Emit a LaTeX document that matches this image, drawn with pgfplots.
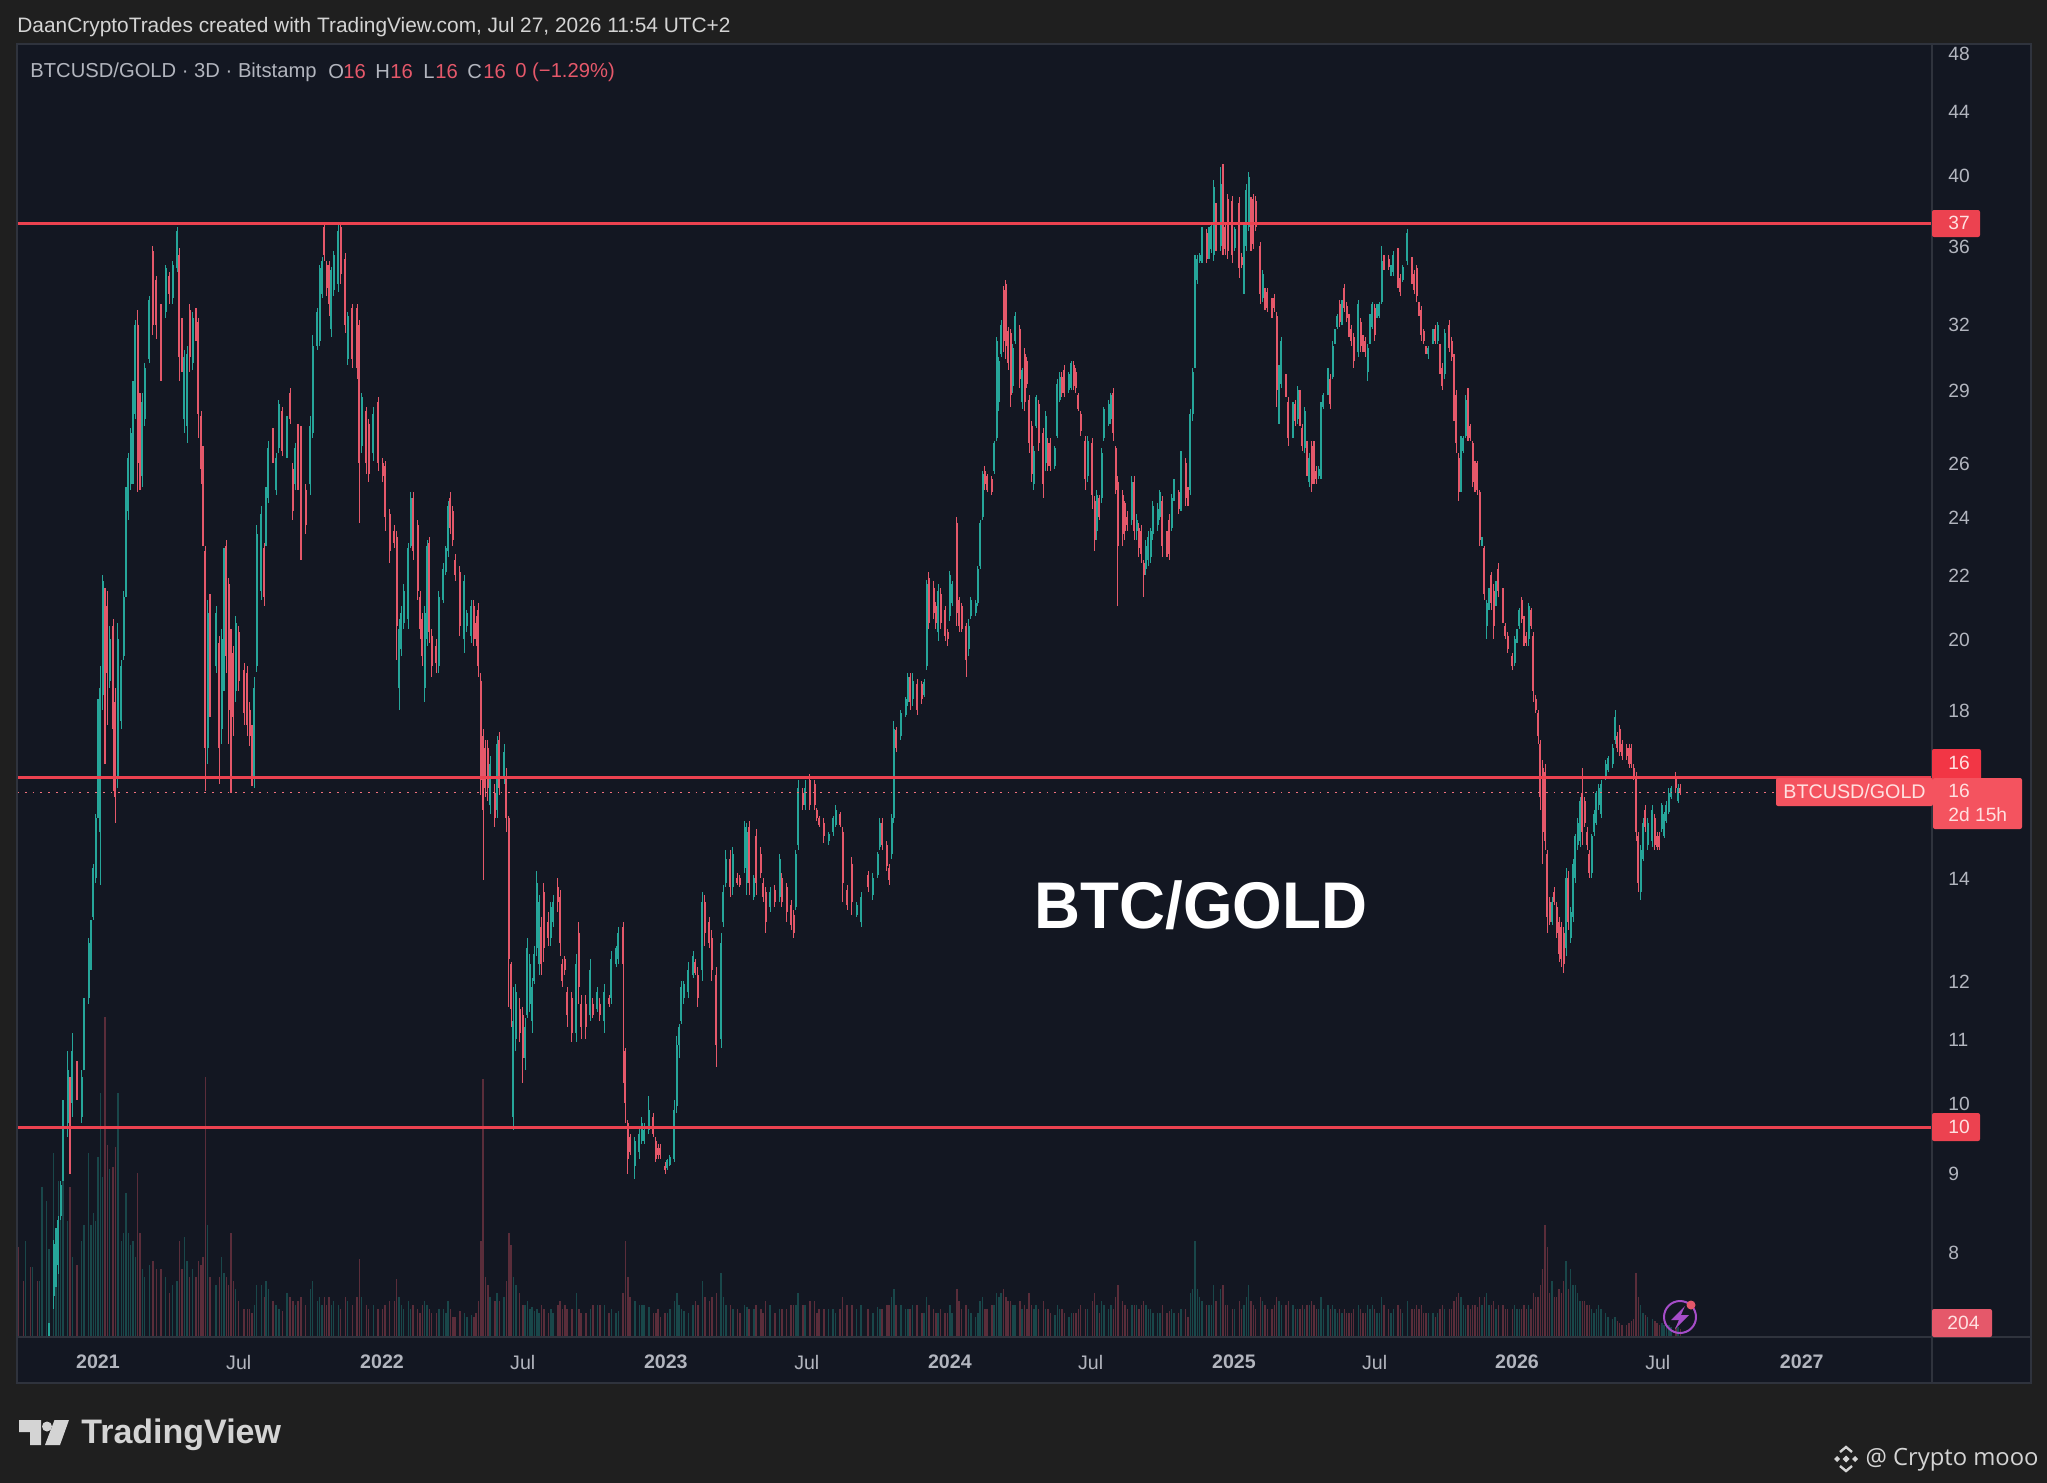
\documentclass[border=0pt]{standalone}
\usepackage{fontspec}
\usepackage{pgfplots}
\usepackage{pgfplotstable}
\pgfplotsset{compat=1.18}
\setmainfont{Liberation Sans}
\newfontfamily\wmfont{Open Sans}
\definecolor{outerbg}{HTML}{1F1F1F}
\definecolor{panebg}{HTML}{131722}
\definecolor{frameln}{HTML}{2F333D}
\definecolor{upc}{HTML}{26A69A}
\definecolor{dnc}{HTML}{E5586A}
\definecolor{lvl}{HTML}{EC4250}
\definecolor{txt}{HTML}{B2B5BE}
\definecolor{tagA}{HTML}{F23645}
\definecolor{tagB}{HTML}{F4535F}
\definecolor{hdr}{HTML}{D4D4D4}
\definecolor{bolt}{HTML}{A64DC9}
\pgfplotstableread{
i l h o c v
-34 5.6 5.9 5.8 5.7 2250
-32 5.7 6.0 5.9 5.8 1400
-31 5.8 6.1 5.8 6.0 2400
-29 5.9 6.2 6.1 6.0 1750
-28 6.0 6.3 6.0 6.2 1750
-26 6.1 6.4 6.3 6.2 1400
-25 6.2 6.6 6.2 6.5 1400
-24 6.4 6.8 6.4 6.7 3750
-22 6.6 7.0 6.6 6.9 3400
-21 6.9 7.2 7.0 7.2 2200
-19 7.35 8.15 7.5 8.1 4600
-18 7.6 8.3 7.7 8.2 2600
-17 7.75 8.45 7.85 8.4 3900
-16 8.4 8.9 8.45 8.85 3000
-15 8.9 10.05 8.95 9.9 5750
-13 9.5 10.8 9.7 10.5 2900
-12 9.0 10.4 10.3 9.6 3750
-11 9.8 11.1 10 10.8 2000
-9 10.05 10.65 10.6 10.2 1800
-7 9.7 10.5 9.8 10.4 2400
-6 10.5 11.7 10.5 11.6 2800
-4 11.6 12.8 11.7 12.7 4600
-3 12.2 13.15 12.3 13.1 2800
-2 13.15 14.3 13.2 14.2 3100
-1 13.9 15.4 14 15.3 2900
0 15.3 18.3 15.4 18.1 4500
1 13.85 19.2 15 18.6 6100
2 18 22 18.4 21.8 4000
3 16.6 21.6 21.5 18 8000
4 17.6 21.5 21 19 4800
5 18.6 20.4 18.8 20 4200
6.5 15.95 20.6 20.4 17.5 4250
7.5 15.2 18.6 18.2 15.8 4750
8.5 16 20.5 16.3 20 6100
10 17.5 19.4 17.7 19.2 2400
11 19.4 21.5 19.5 21.3 2600
12 21.3 25.1 21.4 24.8 3600
13 23.9 26.4 24.2 26.2 2600
14 25 27.4 25.2 27.2 2300
15 25.2 29.4 25.4 29.1 2400
16 27.8 32.2 28 32 2000
17 24.9 32.7 32 26 4100
18 25 28.9 28.7 26 2600
19 25.1 28.9 25.5 28.5 1700
20 27.5 30.2 27.8 30 1500
22 30.2 33.4 30.4 33.2 1800
23.5 31.5 36 35.7 32 1900
25 31.3 34.4 34.2 32 1700
27 29.4 33 32.8 30.5 1700
29 32.3 35 32.6 34.8 1500
30.6 33 34.6 34.4 33.5 1100
32 33 35.2 33.3 35 1300
33.9 34.6 37 34.8 36.8 1400
34.9 29.4 35.9 35.5 30.5 2400
36 29.8 32.3 32 30.5 1700
37 27.2 30.8 27.8 30.5 2500
38.2 26.8 31 27.5 30.6 1900
39.3 29.8 33 32.7 30.5 1500
40.6 29.9 32.6 30.2 32.3 1700
42 31.2 32.8 32.6 31.6 1500
43 27 32.3 32.1 28 1900
44.2 25.2 28.1 27.9 25.8 1800
45 23 26.7 26.5 23.5 2000
46 15.95 23 22.8 17 6500
47 16.6 21.2 17 20.8 2800
48 17.8 21.4 21.2 18.2 1500
50.6 19 21 19.2 20.8 1300
52 16.1 20.1 19.9 17 1500
53 17.1 20.3 17.5 20 2000
54 18.5 22.9 19 22.5 1600
55 19 23.2 23 19.5 1500
56 17.1 21.9 21.7 18 1300
57 15.9 20.3 20.1 16.4 2600
58 17.3 19.8 19.6 17.8 1400
59 18.2 20.7 18.5 20.5 1200
60.3 18.5 20.4 20.2 18.8 900
62.6 17.6 19.3 19.1 17.9 700
64 17.3 19.2 19 17.6 700
65 17.05 18.2 18 17.3 700
66 16.05 17.6 17.4 16.4 600
67 16 18.9 16.3 18.6 800
68 19.05 23.7 19.2 23.4 1300
70 21.2 24.4 21.5 24.1 1300
71.3 21 23.1 22.9 21.3 1000
72 23 25.1 23.1 24.9 1400
73 24.5 26.9 24.7 26.6 1200
75 26 27.4 27.2 26.3 900
76.3 24.8 26.4 25 26.2 800
77.5 26.4 28.6 26.6 28.4 700
79 26.3 28.3 28.1 26.5 650
81 26.2 27.9 26.4 27.7 1100
82.3 27.6 29.1 28.9 27.8 1000
83.5 23.9 26 25.8 24.2 900
84.6 25 26.8 25.2 26.6 800
85.7 25 27.6 27.4 25.3 900
87 22.5 27.5 27 23.5 1000
89 23.4 25.2 25 23.7 800
91 24.8 27.9 25.2 27.5 1200
92 27 31.5 27.2 31 1400
94 30.8 32.8 31 32.6 900
95 31 35 31.2 34.8 1000
96 33.3 35.4 33.5 35.2 800
97 35.2 37.3 37 35.5 1000
98 33.4 35.2 35 33.8 800
99 32.4 35.2 35 33 1000
100 31.4 34.9 31.8 34.7 800
101 33.4 35.7 33.7 35.5 900
103 33.6 37.2 34 36.8 800
104 34 37.3 37 34.5 700
106 31.6 35.6 35.3 32 1000
107 30.1 32.6 30.4 32.4 900
109 30 33 32.8 30.4 800
111 29.5 33 32.8 30 1000
112 23.8 32.2 32 26 1950
113 26.4 28.9 26.7 28.7 1000
115 25.6 28.3 28.1 26 800
116 25.3 27.8 27.6 25.6 700
118 26.1 28.3 26.4 28 800
120 25.7 28.7 28.5 26 700
122 25.3 26.2 26 25.5 700
123 23.5 26.1 25.9 24 800
125 22.4 24.3 24.1 22.8 900
127 22.9 23.7 23.5 23.1 900
128 19.4 23.5 23.3 20.4 1450
129 18 20.6 18.6 20.3 1000
130 19.5 21 19.7 20.8 800
131 20.3 21.7 20.5 21.5 700
133 20.3 23.1 20.6 22.9 900
134 22.9 24.9 23 24.7 700
135 22.5 24.9 24.7 22.8 800
137 21.2 23.9 23.7 21.5 700
138 20 21.5 21.3 20.3 600
139 19.2 20.8 20.6 19.5 800
140 18.2 21 18.6 20.8 900
141 19.8 23.2 20 23 800
142 19.9 23.3 23.1 20.2 700
143 18.9 20.3 20.1 19.2 600
145 19 20 19.8 19.3 600
146 19 21.5 19.2 21.3 700
148 21.1 22.4 21.2 22.2 700
149 22 23 22.1 22.9 600
150 22.6 24.6 22.8 24.4 900
151 23.4 24.9 24.7 23.6 700
152 23 24.4 24.2 23.2 500
153 21.8 22.7 22.5 22 500
155 20.1 22.3 22.1 20.4 650
157 19.6 22 20 21.8 600
158 20.2 20.9 20.4 20.8 500
160 19.9 21.2 20.1 21 550
161 19.8 21.2 21 20 500
162 19.8 20.7 20.5 20 600
163 18.9 21.1 20.9 19.2 900
164 15.85 19 18.8 16.2 2400
165 13.95 17.5 17.3 15.5 6450
166 15.8 17.2 17 16 1500
167 15.7 17.2 17 16 1300
168 15.4 16.8 15.6 16.6 1000
170 15.1 16.1 15.9 15.3 900
171 15.3 17.3 15.5 17.1 1100
172 15.85 17.4 17.2 16 900
174 16.1 17.1 16.3 16.9 1000
175 15 16.5 16.3 15.3 1400
176 11.55 15.35 15.3 12.4 2600
177 11.2 12.35 12.3 11.5 2300
178 9.6 11.9 9.8 11.3 1500
179 10.8 11.95 11 11.8 1300
180.6 10.95 11.7 11.5 11.1 1100
182 10.3 11.55 11.4 10.7 800
183 10.5 11.35 10.7 11.2 800
184 11.35 12.8 11.4 12.6 900
185 11.45 12.5 11.6 12.3 700
186 11.1 12.05 11.3 11.9 750
187 11.95 12.65 12 12.5 650
188 12.45 14.15 12.6 13.9 700
189 12.1 13.65 12.3 13.5 600
190 12.1 13.2 13 12.3 800
191 12.35 13.9 13.7 12.6 700
193 12.65 13.3 13.1 12.8 600
194 12.65 13.5 12.8 13.4 700
195 13 13.65 13.1 13.5 600
197 13.3 14 13.8 13.5 800
198 12.45 13.75 13.6 12.7 900
199 11.9 12.4 12.3 12 700
200 12.1 12.45 12.4 12.2 800
201 11.2 11.9 11.8 11.4 700
203 10.95 11.8 11.7 11.1 700
205 10.95 12.5 11.1 12.3 1100
206 11.6 13.1 12.9 11.9 700
207 11 11.75 11.6 11.2 600
209 11 11.75 11.6 11.2 600
211 11.3 12.4 11.4 12.2 700
212 11.35 11.7 11.6 11.4 800
214 11.45 11.9 11.5 11.8 800
215 11.3 11.7 11.6 11.4 800
217 11.1 11.95 11.3 11.8 800
219 11.55 11.75 11.7 11.6 600
220 11.6 12.55 11.7 12.4 700
222 12.25 12.65 12.3 12.6 600
223 12.3 13 12.4 12.9 650
225 10.3 13.1 13 12.3 1100
226 9.7 10.85 10.8 10 2400
227 9 9.75 9.7 9.2 1500
228 9.25 9.55 9.5 9.3 1000
230 8.92 9.5 9.1 9.45 900
232 9.2 9.64 9.3 9.55 800
233 9.4 9.8 9.45 9.7 800
234 9.4 9.7 9.45 9.6 800
236 9.55 10.1 9.6 9.9 750
238 9.5 9.85 9.8 9.55 600
239 9.15 9.5 9.45 9.2 600
240 9.2 9.4 9.35 9.25 700
241 9.2 9.4 9.35 9.25 500
243 9 9.15 9.1 9.05 600
244 9.05 9.2 9.07 9.18 600
245 9.1 9.25 9.12 9.22 700
247 9.15 10.05 9.2 9.9 900
248 9.85 11.05 9.95 10.9 1100
249 10.7 11.25 10.9 11.2 800
250 11.25 12 11.3 11.9 700
251 11.6 12 11.7 11.95 650
253 11.7 12.35 11.8 12.2 600
255 12.05 12.55 12.1 12.45 800
256 12.1 12.4 12.35 12.15 900
257 11.55 12.25 12.1 11.7 800
259 12 13.7 12.2 13.5 1400
260 12.65 13.65 13.5 12.9 1000
262 12.6 13.2 13.1 12.7 900
263 12 12.95 12.8 12.2 1000
265 10.55 12.25 12.1 10.9 1100
267 10.85 12.9 11 12.7 1600
268 13 13.85 13.1 13.7 1000
269 13.8 14.6 13.9 14.4 800
271 13.6 14.6 14.4 13.8 800
272 13.65 14.65 13.8 14.5 700
274 13.85 14.1 14 13.9 700
275 13.8 14.05 14 13.85 600
277 14.1 15.25 14.2 15.1 800
278 13.65 15.2 13.9 15 750
279 13.65 15.25 15.1 13.9 700
281 13.55 14.05 13.6 14 700
282 13.65 15.05 14.9 13.9 800
284 14 14.65 14.5 14.1 700
285 13.5 14 13.9 13.6 600
286 12.9 13.8 13.7 13.1 900
288 13.3 13.8 13.4 13.7 800
290 13.4 13.85 13.75 13.5 600
292 13.5 14.5 13.6 14.4 700
293 13.4 14.1 14 13.5 700
295 13.1 13.9 13.8 13.3 700
297 12.95 13.55 13.45 13.05 800
298 12.8 13.35 13.25 12.9 800
299 13.35 14.6 13.4 14.5 800
300 14.6 16.2 14.7 16 1100
302 15.5 16 15.9 15.6 800
303 15.5 16.2 15.6 16 800
305 15.5 16.35 16.2 15.6 900
307 15.5 16.2 16.1 15.6 900
308 15.25 15.55 15.5 15.3 600
309 15.1 15.35 15.3 15.15 700
311 14.75 15.3 15.2 14.9 700
313 14.7 15 14.8 14.95 700
315 14.9 15.35 15 15.3 700
316 15.1 15.6 15.15 15.5 600
318 15.1 15.45 15.4 15.15 700
319 13.5 15.1 15 13.9 1000
321 13.35 13.85 13.75 13.45 800
323 13.25 14.45 14.3 13.5 800
325 13.2 13.5 13.25 13.45 700
327 13 13.7 13.1 13.6 800
330 13.7 14.15 14.05 13.8 700
332 13.55 14.1 13.65 14 600
334 14 14.55 14.05 14.5 750
335 14.6 15.3 14.65 15.2 700
336 14.6 15.3 15.2 14.7 700
338 14.15 14.8 14.7 14.25 800
339 13.85 14.3 14.2 13.95 800
340 14.4 15.4 14.5 15.3 1000
341 15.2 17.7 15.3 17.5 1200
342 16.9 17.55 17.45 17 800
344 17.2 18 17.3 17.9 800
346 17.8 18.35 17.85 18.3 700
347 18.1 19 18.2 18.9 700
348 18 19 18.9 18.2 700
349 18.1 19 18.3 18.8 800
351 17.85 18.85 18.7 18 800
353 18.15 18.8 18.7 18.3 600
354 18.35 18.85 18.4 18.75 600
355 19.1 21.85 19.2 21.7 1000
356 20.3 22.1 21.9 20.5 800
358 20.6 21.8 21.6 20.8 700
359 20.3 21.15 21 20.5 600
360 19.95 21.7 20.2 21.5 600
361 20.3 21.6 21.4 20.5 700
363 19.95 21 20.9 20.1 600
364 19.8 20.3 20.2 20 600
365 20.55 22.15 20.7 22 800
366 21 21.8 21.1 21.7 600
368 20.4 24 23.8 20.8 1200
369 20.2 21.3 21.2 20.4 900
370 20.2 21.1 21 20.3 700
372 18.9 20.5 20.4 19.4 800
373 19.5 20.6 19.7 20.4 700
374 20.6 21.3 20.7 21.2 600
376 20.7 21.2 20.8 21.1 500
377 21 22.3 21.1 22.2 600
378 22.2 23.9 22.3 23.8 900
379 23.9 25.7 24 25.6 1000
380 25 25.9 25.7 25.2 700
381 24.9 25.6 25.5 25 700
383 24.8 25.5 25.4 24.9 800
384 25.6 26.9 25.7 26.8 800
385 26.9 31.4 27 31.2 1100
386 28.1 30.5 28.5 30.3 1000
387 30.5 32.2 30.6 32 1100
388 30.7 33.9 33.7 31.2 1200
389 30.4 34.2 34 31 1000
390 29.9 31.9 31.7 30.2 900
391 28.3 31.8 31.6 28.8 900
392 28.9 31.1 29.2 30.9 800
393 31.1 32.6 31.2 32.4 800
395 29.1 32 31.8 29.5 900
396 28.2 30 28.5 29.9 700
397 28.1 30.9 30.6 28.5 800
398 29.1 30.5 30.3 29.3 700
399 26.4 28.8 28.6 26.8 1100
400 25.3 27.7 27.5 25.6 800
401 25 26.7 25.2 26.5 700
402 27.4 28.8 27.5 28.7 800
403 26.5 28.6 28.4 26.8 700
405 24.7 27.4 27.2 25.2 900
406 25.7 28.1 26 27.9 700
407 25.7 27 26.8 25.9 700
408 25.7 27 26.8 25.9 600
410 25.8 26.7 25.9 26.6 550
411 27 29.5 27.1 29.3 800
412 28.5 29.8 28.6 29.6 700
413 28.7 29.8 29.6 28.9 700
414 28.7 30.1 29.9 28.9 600
416 28.9 29.8 29 29.7 500
417 29 30.3 29.1 30.2 600
418 29 30.3 30.1 29.2 600
419 28.9 30 29.8 29.1 600
420 28.1 28.9 28.8 28.2 700
421 27.1 28.1 28 27.3 800
423 25 27.1 26.9 25.4 700
424 25.3 27.1 25.5 26.9 700
426 24.3 27 26.8 24.8 900
427 22.8 24.75 24.6 23.2 1100
428 23.2 25 23.5 24.8 800
429 23.9 24.8 24.7 24 600
430 24.5 26.6 24.7 26.4 900
431 26.9 28.3 27 28.2 800
433 27.5 28.6 27.6 28.4 700
434 27.6 28.9 27.8 28.8 800
435 26.9 29.1 28.9 27.2 700
436 24.85 26.7 26.6 25 1000
437 21 25.5 25.3 23 1300
439 23 25 24.8 23.4 900
440 23.2 24.6 24.5 23.5 800
441 23.5 24.2 24 23.7 700
443 23.7 25.5 23.9 25.3 800
444 23.2 25.5 25.3 23.5 800
445 23.2 24.1 23.5 23.9 800
446 22.6 23.8 23.6 22.9 700
447 22.4 23.7 23.5 22.7 800
448 21.3 22.5 22.4 22 900
449 22 23.2 22.2 23 800
450 22.3 23.5 22.5 23.3 700
451 22.4 23.6 22.6 23.5 700
452 23.2 24.6 23.4 24.4 600
454 23.5 24.5 23.7 24.3 600
455 23.9 25 24 24.9 600
456 22.6 24.75 24.6 23 800
458 22.6 23.5 23.3 22.8 600
459 22.5 24.1 23.9 22.7 650
460 23.5 24.85 23.6 24.7 700
461 24.6 25.4 24.7 25.3 600
463 24.1 25 24.9 24.3 600
464 24.2 26.5 24.4 26.3 700
466 24.4 26.2 26 24.7 700
467 24.4 25.1 25 24.6 500
468 24.8 28.2 25 28 1100
469 27.7 30 28 29.8 1200
470 30 35.5 30.1 35.3 2400
471 34 35.5 34.2 35.3 1200
472 35.1 35.6 35.2 35.5 1000
473 35.1 37 35.3 36.8 900
475 35.1 36.9 36.7 35.3 800
476 35.3 37 35.5 36.8 800
477 35.6 37.3 35.8 37.1 800
478 35.2 39.7 35.5 39.3 1300
479 35.7 38.4 38.2 36 900
481 35.7 40.5 36 39.5 1200
482 35.5 40.7 40.3 36.5 1300
483 35.5 37.2 37 35.8 800
484 35.3 38.9 38.6 35.7 800
486 35.1 38.8 38.5 35.5 700
487 35.7 37 35.9 36.9 700
489 34.3 38.7 38.4 34.8 900
490 34.8 35.6 35.4 35 700
491 33.5 37.2 33.9 36.9 800
492 35.7 39.5 36 39.1 1000
493 36.8 40.2 37 39.9 1300
494 35.7 38.7 38.4 36 900
495 35.8 38.9 38.6 36.1 800
496 36.8 38.8 38.5 37 700
498 33 36.2 36 33.5 1000
499 33.1 34.7 33.3 34.5 900
500 32.7 33.8 33.6 32.9 800
501 32.6 33.8 33.6 32.8 700
503 32.3 33.3 33.1 32.5 700
504 32.6 33.5 33.3 32.8 800
505 28.3 32.6 32.4 29 1000
506 27.6 30.1 27.9 29.9 900
507 29.1 31.4 29.3 31.2 800
509 28.7 29.7 29.5 28.9 800
510 26.7 28.7 28.5 27 900
512 27 28.5 27.2 28.3 800
513 27.5 28.6 28.4 27.7 700
514 27.6 29.2 27.8 29 700
515 27.5 29 28.8 27.7 700
516 26.5 27.6 27.4 26.7 800
517 26.4 28.3 26.6 28.1 700
518 25.5 26.9 26.7 25.7 800
519 25.1 26.4 25.3 26.2 800
520 24.9 26.9 26.7 25.2 900
521 25.2 26.9 26.7 25.5 800
522 25.2 25.9 25.7 25.4 700
523 25.4 25.9 25.5 25.8 700
524 25.4 28.5 25.7 28.3 1000
525 28.2 28.9 28.3 28.8 700
527 28.8 30 28.9 29.9 800
528 28.2 29.7 29.5 28.4 700
529 29.5 31.2 29.6 31 800
530 31.1 31.8 31.2 31.7 700
531 31.8 32.5 31.9 32.4 600
532 31.9 33.2 33 32.1 700
533 32 33.2 32.2 33 600
534 32.6 34 33.8 32.8 700
535 32.1 33.1 32.9 32.3 600
536 31.4 32.5 32.3 31.6 600
537 31 32 31.8 31.2 600
538 30 31.6 31.4 30.3 700
540 30.5 33.2 30.7 33 800
541 30.7 32.3 32.1 31 700
542 30.7 31.5 31.3 30.9 600
543 30.5 31.4 31.2 30.7 600
544 29.4 31.1 29.8 30.9 800
545 31.1 32.5 31.2 32.3 700
546 31.8 33.1 31.9 33 800
547 31.2 33 32.8 31.5 700
548 32.3 33 32.4 32.9 600
549 32.3 33.1 32.4 33 600
550 33 36 33.1 35.2 1000
551 34.7 35.5 35.4 34.8 800
553 34.7 35.5 35.3 34.9 700
554 34.4 35 34.5 34.9 600
555 34.4 35.7 34.6 35.5 700
557 33.8 35.9 35.7 34 800
558 33.4 34.5 34.3 33.6 700
559 34.1 35 34.2 34.9 600
561 35 36.9 35.2 36.7 900
563 34 35.4 35.2 34.2 700
564 33.5 34.7 34.5 33.7 700
565 33.1 35 34.8 33.4 800
566 32.4 33.1 33 32.5 700
567 31.2 32.9 32.7 31.5 800
568 31.1 31.8 31.7 31.2 600
569 30.6 31 30.9 30.7 600
570 30.4 31 30.6 30.9 600
572 31.1 31.8 31.2 31.7 600
573 31.1 32 31.8 31.2 500
574 31.1 32.1 31.2 32 600
575 29.7 31.1 31 30 700
576 29 30.2 30 29.2 800
577 29.5 31.8 29.7 31.6 700
579 30.7 32.2 32 30.9 700
580 30.3 31.4 31.2 30.5 700
581 27.7 30.6 30.4 28 900
582 26.4 29 28.8 26.8 1000
583 24.6 26.4 26.2 24.9 1100
584 24.9 27.1 25.1 26.9 1000
585 26.4 27.1 26.5 27 800
586 27 28.8 27.1 28.6 700
587 26.9 29.1 28.9 27.1 800
588 26.9 27.6 27.5 27 700
589 25.1 26.9 26.8 25.3 800
590 24.9 26.1 26 25 800
591 24.8 26.1 26 25 750
592 23 25 24.9 23.2 1000
593 23 23.3 23.05 23.25 800
594 21.2 23 22.9 21.4 1000
595 20 21.2 20.4 21.1 1100
596 20.9 21.6 21 21.5 800
597 20.9 22.1 22 21.1 800
598 20 21.7 21.5 20.4 900
599 21 21.8 21.1 21.7 700
600 21.3 22.4 22.2 21.5 800
602 20.5 21.6 21.4 20.7 800
603 20 20.5 20.4 20.1 700
604 19.6 20.2 20.1 19.7 700
606 19.1 19.6 19.5 19.2 700
607 19.2 20.1 19.3 20 800
608 19.9 20.3 20 20.2 700
609 20.3 20.95 20.4 20.9 700
610 20.5 21.3 21.2 20.6 700
611 19.8 20.7 20.6 19.9 800
612 19.8 20.2 20.1 19.9 700
613 19.8 21.1 20 21 800
614 20.3 20.95 20.9 20.4 700
615 18.2 20.2 20.1 18.5 1100
616 17.9 18.4 18.3 18 1000
617 17.1 18 17.9 17.3 1000
618 15.5 17.2 17.1 15.8 1300
619 14.3 16.7 16.5 15 1700
620 14.6 16.6 16.4 14.8 2800
621 12.9 14.6 14.5 13.2 2250
622 13.05 13.6 13.5 13.1 1100
623 13.05 13.6 13.1 13.5 1400
624 13.45 13.8 13.7 13.5 1000
625 12.8 13.5 13.4 12.9 1000
626 12.35 13.2 13.1 12.5 1200
627 12.25 13.1 13 12.4 1100
628 12.15 13 12.9 12.3 1400
629 12.45 14.2 12.6 14 1900
630 12.95 14.15 14 13.1 1200
631 12.7 13.4 12.8 13.3 1700
632 13.1 14.4 13.2 14.3 1300
633 13.9 14.95 14 14.9 1300
634 14.6 15.3 14.7 15.2 1100
635 14.65 15.8 14.8 15.7 900
636 14.7 16.5 15.9 15 900
637 15.1 15.8 15.7 15.2 900
638 14.6 15.1 15 14.7 800
639 14 14.6 14.5 14.1 800
640 14 14.95 14.1 14.9 700
641 14.9 15.5 15 15.4 600
642 15.15 15.95 15.2 15.9 700
643 15.5 16.1 15.6 16 800
644 15.3 16.2 15.4 16.1 700
646 16.2 16.7 16.3 16.6 600
647 16.4 16.8 16.45 16.75 500
649 16.5 17.1 16.6 17 450
650 17.1 18 17.2 17.8 500
651 16.9 17.4 17.3 17 400
652 16.8 17.6 17.5 16.9 350
653 16.7 17.2 17.1 16.8 300
655 16.7 17.1 17 16.8 300
656 16.5 17.1 17 16.6 350
657 16.5 17.1 17 16.6 400
658 16.2 16.6 16.5 16.3 450
659 14.8 16.4 16.3 15 1600
660 13.7 15 14.9 13.9 1000
661 13.55 14.7 13.7 14.6 800
662 14.35 15.3 14.4 15.2 600
663 15 15.6 15.5 15.1 550
664 14.6 15.3 14.7 15.2 500
666 14.65 15.6 14.8 15.5 450
667 14.6 15.4 15.3 14.7 400
668 14.6 15 14.9 14.65 350
669 14.6 15 14.9 14.65 300
670 15 15.65 15.05 15.6 350
671 14.85 15.45 14.9 15.4 300
672 15.2 15.7 15.25 15.6 300
673 15.4 16 15.45 15.9 300
674 15.75 16.05 15.8 16 250
676 15.9 16.4 16.3 16 250
677 15.65 16.1 15.7 16 250
678 15.85 16.1 16 15.9 204
}\candles
\pgfplotsset{
  paneaxis/.style={
    at={(8.5pt,-668.5pt)},anchor=south west,
    scale only axis,width=957.5pt,height=646.5pt,
    xmin=-34.7,xmax=785.8,clip=true,
  },
  updir/.style={restrict expr to domain={\thisrow{c}-\thisrow{o}}{0:1000}},
  dndir/.style={restrict expr to domain={\thisrow{c}-\thisrow{o}}{-1000:-0.00001}},
}
\begin{document}
\begin{tikzpicture}
\begin{scope}[x=0.5pt,y=-0.5pt]
\path[use as bounding box,fill=outerbg] (0,0) rectangle (2047,1483);
\fill[panebg] (17,44) rectangle (2031,1383);
\end{scope}
% volume
\begin{axis}[paneaxis,axis lines=none,ymin=0,ymax=32325]
\addplot[ycomb,no markers,line width=0.75pt,draw=upc,opacity=0.34,updir] table[x=i,y=v] {\candles};
\addplot[ycomb,no markers,line width=0.75pt,draw=dnc,opacity=0.34,dndir] table[x=i,y=v] {\candles};
\end{axis}
% price
\begin{axis}[paneaxis,ymode=log,ymin=7.05,ymax=48.66,
  axis line style={draw=none},major tick length=0pt,minor tick length=0pt,
  xtick={0,60.3,121.7,182,243.3,303.7,365,425.3,486.7,547,608,668.3,730},
  xticklabels={\textbf{2021},Jul,\textbf{2022},Jul,\textbf{2023},Jul,\textbf{2024},Jul,\textbf{2025},Jul,\textbf{2026},Jul,\textbf{2027}},
  xticklabel style={anchor=center,yshift=-12.5pt,inner sep=0pt,font=\fontsize{9.8}{12}\selectfont,text=txt},
  ytick={8,9,10,11,12,14,18,20,22,24,26,29,32,36,40,44,48},
  yticklabels={8,9,10,11,12,14,18,20,22,24,26,29,32,36,40,44,48},
  yminorticks=false,
  yticklabel pos=right,
  yticklabel style={anchor=west,xshift=8pt,yshift=-0.4pt,inner sep=0pt,font=\fontsize{9.6}{12}\selectfont,text=txt},
]
\addplot[draw=none,mark=none,updir,error bars/.cd,y dir=both,y explicit,error mark=none,error bar style={line width=0.55pt,draw=upc}]
  table[x=i,y=o,y error plus expr=\thisrow{h}-\thisrow{o},y error minus expr=\thisrow{o}-\thisrow{l}] {\candles};
\addplot[draw=none,mark=none,dndir,error bars/.cd,y dir=both,y explicit,error mark=none,error bar style={line width=0.55pt,draw=dnc}]
  table[x=i,y=o,y error plus expr=\thisrow{h}-\thisrow{o},y error minus expr=\thisrow{o}-\thisrow{l}] {\candles};
\addplot[draw=none,mark=none,updir,error bars/.cd,y dir=plus,y explicit,error mark=none,error bar style={line width=1pt,draw=upc}]
  table[x=i,y=o,y error plus expr=\thisrow{c}-\thisrow{o}] {\candles};
\addplot[draw=none,mark=none,dndir,error bars/.cd,y dir=minus,y explicit,error mark=none,error bar style={line width=1pt,draw=dnc}]
  table[x=i,y=o,y error minus expr=\thisrow{o}-\thisrow{c}] {\candles};
% levels
\addplot[lvl,line width=1.35pt] coordinates {(-34.7,37.2)(785.8,37.2)};
\addplot[lvl,line width=1.35pt] coordinates {(-34.7,16.26)(785.8,16.26)};
\addplot[lvl,line width=1.35pt] coordinates {(-34.7,9.64)(785.8,9.64)};
\addplot[lvl!75!white,line width=0.7pt,dash pattern=on 0.9pt off 3pt] coordinates {(-34.7,15.9)(719,15.9)};
\end{axis}
\begin{scope}[x=0.5pt,y=-0.5pt]
% frame
\draw[frameln,line width=0.6pt] (17,44) rectangle (2031,1383);
\draw[frameln,line width=0.6pt] (1932,44) -- (1932,1383);
\draw[frameln,line width=0.6pt] (17,1337) -- (2031,1337);
% header
\node[anchor=west,inner sep=0pt,text=hdr,font=\fontsize{10.44}{12}\selectfont] at (17,27.5) {DaanCryptoTrades created with TradingView.com, Jul 27, 2026 11:54 UTC+2};
\begin{scope}[every node/.style={anchor=west,inner sep=0pt,font=\fontsize{10.1}{12}\selectfont}]
\node[text=txt] at (30,72) {BTCUSD/GOLD · 3D · Bitstamp};
\node[text=txt] at (328,72) {O};
\node[text=dnc] at (343,72) {16};
\node[text=txt] at (375,72) {H};
\node[text=dnc] at (390,72) {16};
\node[text=txt] at (423,72) {L};
\node[text=dnc] at (435,72) {16};
\node[text=txt] at (467,72) {C};
\node[text=dnc] at (483,72) {16};
\node[text=dnc] at (515,72) {0 (−1.29\%)};
\end{scope}
% big label
\node[text=white,font=\fontsize{33}{36}\selectfont\bfseries,xscale=0.965,inner sep=0pt] at (1201,905) {BTC/GOLD};
% right tags
\fill[lvl,rounded corners=1pt] (1932,210) rectangle (1980,237);
\fill[lvl,rounded corners=1pt] (1932,1113) rectangle (1980,1141);
\fill[tagA,rounded corners=1pt] (1932,749) rectangle (1981,780);
\fill[tagB,rounded corners=1pt] (1776,778) rectangle (1933,806);
\fill[tagB,rounded corners=1pt] (1933,778) rectangle (2022,829);
\fill[dnc,rounded corners=1pt] (1932,1309) rectangle (1992,1337);
\begin{scope}[every node/.style={anchor=west,inner sep=0pt,text=white!88!red,font=\fontsize{9.6}{12}\selectfont}]
\node at (1948,223) {37};
\node at (1948,1127) {10};
\node at (1948,763) {16};
\node at (1948,791) {16};
\node at (1948,815) {2d 15h};
\node[font=\fontsize{9.85}{12}\selectfont] at (1783,791) {BTCUSD/GOLD};
\node at (1947,1323) {204};
\end{scope}
% bolt icon
\draw[bolt,line width=1pt] (1680,1317) circle[radius=16];
\fill[bolt] (1685,1306)--(1671,1320)--(1679,1320)--(1675,1329)--(1689,1315)--(1681,1315)--cycle;
\fill[dnc] (1691,1305) circle[radius=4.5];
% logo
\fill[hdr] (19,1420)--(41,1420)--(41,1445)--(30,1445)--(30,1432)--(19,1432)--cycle;
\fill[hdr] (47,1426.5) circle[radius=5];
\fill[hdr] (54.5,1420)--(69,1420)--(60,1445)--(45,1445)--cycle;
\node[anchor=west,inner sep=0pt,text=hdr,font=\fontsize{17}{20}\selectfont\bfseries] at (81,1435) {TradingView};
% watermark
\begin{scope}[shift={(1846,1459)}]
\fill[hdr] (0,-3.5)--(3.5,0)--(0,3.5)--(-3.5,0)--cycle;
\fill[hdr] (-9,-3)--(-6,0)--(-9,3)--(-12,0)--cycle;
\fill[hdr] (9,-3)--(12,0)--(9,3)--(6,0)--cycle;
\draw[hdr,line width=1.2pt] (-6,-7)--(0,-12)--(6,-7);
\draw[hdr,line width=1.2pt] (-6,7)--(0,12)--(6,7);
\end{scope}
\node[anchor=east,inner sep=0pt,text=hdr,font=\wmfont\fontsize{11.9}{14}\selectfont] at (2039,1460) {@ Crypto mooo};
\end{scope}
\end{tikzpicture}
\end{document}
